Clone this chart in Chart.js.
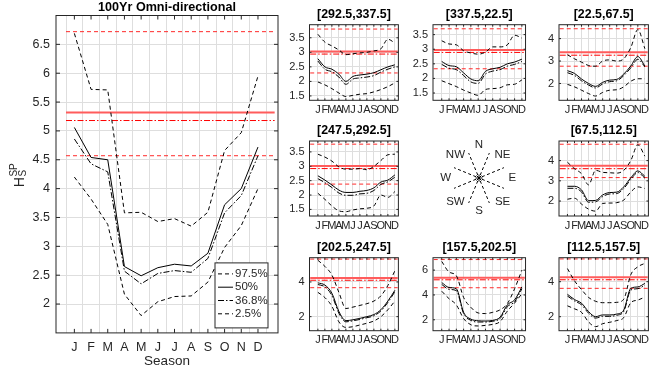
<!DOCTYPE html>
<html>
<head>
<meta charset="utf-8">
<script src="https://cdn.jsdelivr.net/npm/chart.js@4.4.1/dist/chart.umd.min.js"></script>
<style>
  body { margin: 0; background: #fff; }
  #wrap { position: relative; width: 652px; height: 374px; overflow: hidden; }
  #wrap canvas { position: absolute; }
</style>
</head>
<body>
<div id="wrap"></div>
<script>
// Season axis
const months = ['J', 'F', 'M', 'A', 'M', 'J', 'J', 'A', 'S', 'O', 'N', 'D'];
const monthNums = [1, 2, 3, 4, 5, 6, 7, 8, 9, 10, 11, 12];
const halfMonths = [0.5, 1.5, 2.5, 3.5, 4.5, 5.5, 6.5, 7.5, 8.5, 9.5, 10.5, 11.5, 12.5];
const legendLabels = ['97.5%', '50%', '36.8%', '2.5%'];

// 100Yr omni-directional panel
const omniP975 = [6.69, 5.72, 5.71, 3.58, 3.59, 3.43, 3.48, 3.35, 3.59, 4.66, 4.97, 5.95];
const omniP50 = [5.06, 4.54, 4.50, 2.65, 2.49, 2.63, 2.69, 2.66, 2.88, 3.72, 4.00, 4.72];
const omniP368 = [4.86, 4.43, 4.29, 2.57, 2.35, 2.53, 2.58, 2.55, 2.79, 3.58, 3.88, 4.57];
const omniP25 = [4.20, 3.82, 3.38, 2.17, 1.80, 2.04, 2.13, 2.14, 2.38, 2.98, 3.36, 4.00];
const omniLevels = [6.72, 5.32, 5.18, 4.57];   // annual 97.5 / 50 / 36.8 / 2.5
const omniYTicks = [2, 2.5, 3, 3.5, 4, 4.5, 5, 5.5, 6, 6.5];

// directional sectors, top row, middle row, bottom row
const sectorTitles = ['[292.5,337.5]', '[337.5,22.5]', '[22.5,67.5]', '[247.5,292.5]',
                      '[67.5,112.5]', '[202.5,247.5]', '[157.5,202.5]', '[112.5,157.5]'];
const sectorP975 = [
  [3.62, 3.35, 3.22, 3.08, 2.92, 2.95, 2.98, 3.00, 3.05, 3.12, 3.45, 3.32],
  [3.29, 3.18, 3.15, 2.95, 2.87, 2.83, 2.90, 3.08, 3.08, 3.15, 3.48, 3.38],
  [3.28, 3.10, 2.95, 2.80, 2.77, 3.00, 3.05, 3.00, 3.10, 3.60, 4.40, 3.55],
  [3.42, 3.32, 3.18, 2.98, 2.90, 2.90, 2.92, 2.88, 3.00, 3.20, 3.40, 3.42],
  [3.92, 3.60, 3.35, 2.80, 3.52, 3.42, 3.40, 3.38, 3.52, 4.00, 4.78, 4.22],
  [5.25, 4.90, 4.40, 3.40, 2.47, 2.55, 2.65, 2.75, 2.90, 3.20, 3.80, 4.65],
  [6.70, 5.85, 5.55, 3.80, 3.00, 2.55, 2.50, 2.60, 2.80, 3.30, 4.50, 6.00],
  [4.75, 4.05, 3.55, 3.10, 2.88, 2.80, 2.80, 2.82, 3.00, 4.40, 4.85, 5.05]
];
const sectorP50 = [
  [2.78, 2.50, 2.42, 2.25, 2.00, 2.17, 2.22, 2.25, 2.30, 2.40, 2.50, 2.57],
  [2.58, 2.44, 2.40, 2.19, 1.98, 1.92, 2.24, 2.33, 2.38, 2.50, 2.56, 2.66],
  [2.57, 2.45, 2.20, 2.00, 1.87, 2.05, 2.15, 2.18, 2.42, 2.78, 3.20, 2.78],
  [2.67, 2.52, 2.35, 2.17, 2.09, 2.09, 2.13, 2.16, 2.25, 2.45, 2.52, 2.70],
  [2.73, 2.73, 2.55, 2.02, 2.03, 2.30, 2.42, 2.44, 2.70, 3.15, 3.49, 3.22],
  [3.95, 3.82, 3.35, 2.30, 1.77, 1.82, 1.90, 2.00, 2.12, 2.40, 2.90, 3.52],
  [5.00, 4.60, 4.50, 2.60, 2.05, 1.92, 1.90, 1.95, 2.20, 3.20, 3.60, 4.65],
  [3.28, 2.98, 2.77, 2.29, 2.00, 2.10, 2.10, 2.15, 2.38, 3.62, 3.70, 3.90]
];
const sectorP368 = [
  [2.70, 2.42, 2.33, 2.15, 1.90, 2.08, 2.12, 2.15, 2.20, 2.32, 2.42, 2.50],
  [2.48, 2.35, 2.30, 2.10, 1.88, 1.83, 2.15, 2.25, 2.30, 2.42, 2.48, 2.58],
  [2.48, 2.36, 2.12, 1.93, 1.80, 1.98, 2.08, 2.12, 2.35, 2.70, 3.08, 2.74],
  [2.57, 2.43, 2.26, 2.07, 1.99, 1.99, 2.04, 2.06, 2.16, 2.37, 2.46, 2.62],
  [2.63, 2.63, 2.45, 1.94, 1.96, 2.22, 2.35, 2.37, 2.62, 3.07, 3.41, 3.13],
  [3.85, 3.72, 3.22, 2.20, 1.70, 1.76, 1.84, 1.94, 2.05, 2.33, 2.82, 3.44],
  [4.85, 4.45, 4.35, 2.50, 1.95, 1.82, 1.82, 1.88, 2.10, 3.05, 3.45, 4.50],
  [3.18, 2.90, 2.68, 2.20, 1.92, 2.02, 2.02, 2.08, 2.30, 3.52, 3.60, 3.80]
];
const sectorP25 = [
  [1.98, 1.88, 1.75, 1.60, 1.48, 1.52, 1.56, 1.58, 1.64, 1.72, 1.82, 1.95],
  [1.92, 1.82, 1.72, 1.60, 1.50, 1.42, 1.62, 1.65, 1.68, 1.78, 1.80, 1.95],
  [1.96, 1.85, 1.70, 1.55, 1.44, 1.60, 1.70, 1.72, 1.85, 2.10, 2.21, 2.21],
  [2.06, 1.85, 1.62, 1.45, 1.42, 1.48, 1.52, 1.54, 1.62, 2.00, 1.92, 2.12],
  [2.09, 2.14, 1.85, 1.60, 1.50, 1.88, 1.90, 1.92, 2.05, 2.45, 2.70, 2.62],
  [3.40, 3.10, 2.60, 1.70, 1.38, 1.42, 1.52, 1.62, 1.75, 2.00, 2.40, 2.90],
  [4.30, 3.70, 3.20, 2.10, 1.60, 1.50, 1.55, 1.63, 1.85, 2.70, 3.35, 4.10],
  [2.62, 2.45, 2.25, 1.70, 1.43, 1.60, 1.68, 1.78, 1.95, 2.80, 2.95, 3.12]
];
const sectorLevels = [
  [3.80, 3.03, 2.94, 2.29],
  [3.70, 2.97, 2.89, 2.33],
  [4.44, 3.39, 3.26, 2.77],
  [3.77, 3.01, 2.92, 2.38],
  [4.81, 3.75, 3.60, 3.16],
  [5.32, 4.23, 4.10, 3.67],
  [6.85, 5.38, 5.22, 4.58],
  [5.30, 4.25, 4.11, 3.62]
];
const sectorYMin = [1.35, 1.25, 1.25, 1.27, 1.26, 1.19, 1.12, 1.20];
const sectorYMax = [3.95, 3.84, 4.62, 3.88, 4.97, 5.40, 7.00, 5.37];
const sectorYTicks = [
  [1.5, 2, 2.5, 3, 3.5], [1.5, 2, 2.5, 3, 3.5], [2, 3, 4], [1.5, 2, 2.5, 3, 3.5],
  [2, 3, 4], [2, 4], [2, 4, 6], [2, 4]
];

// compass rose
const compassLabels = ['N', 'NE', 'E', 'SE', 'S', 'SW', 'W', 'NW'];
const compassBearings = [0, 45, 90, 135, 180, 225, 270, 315];
const sectorEdges = [22.5, 67.5, 112.5, 157.5, 202.5, 247.5, 292.5, 337.5];

Chart.defaults.font.family = '"Liberation Sans", Arial, Helvetica, sans-serif';
Chart.defaults.color = '#262626';
const FONT = '"Liberation Sans", Arial, Helvetica, sans-serif';
const GRID = '#dedede';
const AXIS = '#262626';

const wrap = document.getElementById('wrap');

function makeCanvas(left, top, w, h) {
    const c = document.createElement('canvas');
    c.width = w;
    c.height = h;
    c.style.left = left + 'px';
    c.style.top = top + 'px';
    c.style.width = w + 'px';
    c.style.height = h + 'px';
    wrap.appendChild(c);
    return c;
}

// canvas around a plot box, returns the margins that are left for axes/title
function placeCanvas(box, pad) {
    const left = Math.floor(box.l - pad.l), top = Math.floor(box.t - pad.t);
    const right = Math.ceil(box.l + box.w + pad.r), bottom = Math.ceil(box.t + box.h + pad.b);
    return {
        canvas: makeCanvas(left, top, right - left, bottom - top),
        padL: box.l - left, padT: box.t - top,
        padR: right - (box.l + box.w), padB: bottom - (box.t + box.h)
    };
}

// box border + inward tick marks on all four sides
const boxTicks = {
    id: 'boxTicks',
    afterDraw(chart, args, opts) {
        const {ctx, chartArea: a, scales} = chart;
        const len = opts.len || 0;
        ctx.save();
        ctx.strokeStyle = AXIS;
        ctx.lineWidth = 1;
        ctx.beginPath();
        scales.x.ticks.forEach(t => {
            const px = scales.x.getPixelForValue(t.value);
            ctx.moveTo(px, a.bottom); ctx.lineTo(px, a.bottom - len);
            ctx.moveTo(px, a.top); ctx.lineTo(px, a.top + len);
        });
        scales.y.ticks.forEach(t => {
            const py = scales.y.getPixelForValue(t.value);
            ctx.moveTo(a.left, py); ctx.lineTo(a.left + len, py);
            ctx.moveTo(a.right, py); ctx.lineTo(a.right - len, py);
        });
        ctx.stroke();
        ctx.strokeRect(a.left, a.top, a.width, a.height);
        ctx.restore();
    }
};

// H_S^SP label of the main panel
const hsLabel = {
    id: 'hsLabel',
    afterDraw(chart) {
        const ctx = chart.ctx, a = chart.chartArea;
        ctx.save();
        ctx.translate(24, (a.top + a.bottom) / 2 + 13);
        ctx.rotate(-Math.PI / 2);
        ctx.fillStyle = AXIS;
        ctx.textBaseline = 'alphabetic';
        ctx.font = '14px ' + FONT;
        ctx.fillText('H', 0, 0);
        const w = ctx.measureText('H').width + 0.5;
        ctx.font = '10px ' + FONT;
        ctx.fillText('S', w, 1.5);
        ctx.fillText('SP', w, -7);
        ctx.restore();
    }
};

// boxed legend in the lower right corner of the main panel
const boxLegend = {
    id: 'boxLegend',
    afterDraw(chart) {
        const {ctx, chartArea: a} = chart;
        const w = 53, h = 65;
        const x0 = a.right - 10 - w, y0 = a.bottom - 5 - h;
        ctx.save();
        ctx.fillStyle = '#fff';
        ctx.fillRect(x0, y0, w, h);
        ctx.strokeStyle = AXIS;
        ctx.lineWidth = 1;
        ctx.strokeRect(x0, y0, w, h);
        ctx.font = '11.5px ' + FONT;
        ctx.textBaseline = 'middle';
        chart.data.datasets.slice(0, 4).forEach((ds, i) => {
            const cy = y0 + 11 + i * 13.3;
            ctx.strokeStyle = ds.borderColor;
            ctx.lineWidth = ds.borderWidth;
            ctx.setLineDash(ds.borderDash);
            ctx.beginPath();
            ctx.moveTo(x0 + 3, cy);
            ctx.lineTo(x0 + 18, cy);
            ctx.stroke();
            ctx.setLineDash([]);
            ctx.fillStyle = AXIS;
            ctx.fillText(ds.label, x0 + 20, cy);
        });
        ctx.restore();
    }
};

function seriesSets(p975, p50, p368, p25, smooth) {
    const pts = arr => arr.map((v, i) => ({x: monthNums[i], y: v}));
    const base = {borderColor: '#000', borderWidth: 1, pointRadius: 0, fill: false,
                  cubicInterpolationMode: smooth ? 'monotone' : 'default', xAxisID: 'x'};
    return [
        Object.assign({}, base, {label: legendLabels[0], data: pts(p975), borderDash: [4, 3]}),
        Object.assign({}, base, {label: legendLabels[1], data: pts(p50), borderDash: []}),
        Object.assign({}, base, {label: legendLabels[2], data: pts(p368), borderDash: [6, 2, 1.5, 2]}),
        Object.assign({}, base, {label: legendLabels[3], data: pts(p25), borderDash: [4, 3]})
    ];
}

function levelSets(levels, x0, x1) {
    const styles = [
        {borderColor: '#ff2a2a', borderWidth: 1, borderDash: [4, 3]},
        {borderColor: '#ff5c5c', borderWidth: 2, borderDash: []},
        {borderColor: '#ff0000', borderWidth: 1, borderDash: [6, 2, 1.5, 2]},
        {borderColor: '#ff2a2a', borderWidth: 1, borderDash: [4, 3]}
    ];
    return levels.map((lv, i) => Object.assign({
        data: [{x: x0, y: lv}, {x: x1, y: lv}], pointRadius: 0, fill: false, xAxisID: 'x'
    }, styles[i]));
}

function drawPanel(box, cfg) {
    const pl = placeCanvas(box, cfg.pad);
    const lineH = cfg.titleSize * 1.2;
    const tTop = Math.max(0, pl.padT - cfg.titleAbove - lineH / 2);
    const scales = {
        x: {
            type: 'linear', min: cfg.xMin, max: cfg.xMax,
            afterBuildTicks: s => { s.ticks = monthNums.map(v => ({value: v})); },
            afterFit: s => { s.height = pl.padB; },
            ticks: {autoSkip: false, maxRotation: 0, minRotation: 0, padding: cfg.xPad,
                    font: {size: cfg.tickSize}, color: AXIS, callback: v => months[v - 1]},
            grid: {display: !cfg.halfGrid, color: GRID, drawTicks: false},
            border: {display: false},
            title: cfg.xTitle ? {display: true, text: cfg.xTitle, font: {size: 13.5}, color: AXIS,
                                 padding: {top: 0, bottom: 4.5}} : {display: false}
        },
        y: {
            type: 'linear', min: cfg.yMin, max: cfg.yMax,
            afterBuildTicks: s => { s.ticks = cfg.yTicks.map(v => ({value: v})); },
            afterFit: s => { s.width = pl.padL; },
            ticks: {padding: cfg.yPad, font: {size: cfg.tickSize}, color: AXIS, callback: v => String(v)},
            grid: {color: GRID, drawTicks: false},
            border: {display: false}
        }
    };
    if (cfg.halfGrid) {
        scales.xg = {
            type: 'linear', min: cfg.xMin, max: cfg.xMax, position: 'bottom',
            afterBuildTicks: s => { s.ticks = halfMonths.map(v => ({value: v})); },
            afterFit: s => { s.height = 0; },
            ticks: {display: false},
            grid: {color: GRID, drawTicks: false},
            border: {display: false}
        };
    }
    const datasets = seriesSets(cfg.p975, cfg.p50, cfg.p368, cfg.p25, cfg.smooth)
        .concat(levelSets(cfg.levels, cfg.levelX0, cfg.levelX1));
    return new Chart(pl.canvas, {
        type: 'line',
        data: {datasets},
        options: {
            responsive: false,
            animation: false,
            layout: {padding: {left: 0, top: 0, right: pl.padR, bottom: 0}},
            scales,
            plugins: {
                legend: {display: false},
                tooltip: {enabled: false},
                title: {display: true, text: cfg.title, color: '#000', fullSize: false,
                        font: {size: cfg.titleSize, weight: 'bold'},
                        padding: {top: tTop, bottom: pl.padT - tTop - lineH}},
                boxTicks: {len: cfg.tickLen}
            }
        },
        plugins: [boxTicks].concat(cfg.extra || [])
    });
}

// main panel
drawPanel({l: 56, t: 15.5, w: 222, h: 317.4}, {
    pad: {l: 56, t: 15.5, r: 12, b: 41.1},
    title: '100Yr Omni-directional', titleSize: 12.6, titleAbove: 8,
    xMin: -0.1, xMax: 13.2, yMin: 1.5, yMax: 7, yTicks: omniYTicks,
    tickSize: 12.5, xPad: 7.5, yPad: 6, tickLen: 4, halfGrid: true, xTitle: 'Season',
    p975: omniP975, p50: omniP50, p368: omniP368, p25: omniP25, smooth: false,
    levels: omniLevels, levelX0: 0.5, levelX1: 13,
    extra: [hsLabel, boxLegend]
});

// sector panels
const panelBoxes = [
    {l: 309.5, t: 24.7, w: 90, h: 75.6}, {l: 433, t: 24.7, w: 94, h: 75.6}, {l: 559, t: 24.7, w: 91, h: 75.6},
    {l: 309.5, t: 141, w: 90, h: 75}, {l: 559, t: 141, w: 91, h: 75},
    {l: 309.5, t: 257.7, w: 90, h: 73}, {l: 433, t: 257.7, w: 94, h: 73}, {l: 559, t: 257.7, w: 91, h: 73}
];
panelBoxes.forEach((box, i) => {
    drawPanel(box, {
        pad: {l: 30, t: 20, r: 2, b: 17},
        title: sectorTitles[i], titleSize: 12.4, titleAbove: 10,
        xMin: -0.2, xMax: 12.5, yMin: sectorYMin[i], yMax: sectorYMax[i], yTicks: sectorYTicks[i],
        tickSize: 11, xPad: 3, yPad: 5, tickLen: 2, halfGrid: false,
        p975: sectorP975[i], p50: sectorP50[i], p368: sectorP368[i], p25: sectorP25[i], smooth: true,
        levels: sectorLevels[i], levelX0: -0.1, levelX1: 12.4
    });
});

// compass rose
const compassText = {
    id: 'compassText',
    afterDraw(chart) {
        const {ctx, scales} = chart;
        ctx.save();
        ctx.fillStyle = AXIS;
        ctx.font = '11.5px ' + FONT;
        ctx.textAlign = 'center';
        ctx.textBaseline = 'middle';
        compassLabels.forEach((lab, i) => {
            const b = compassBearings[i] * Math.PI / 180;
            const r = 0.74;
            ctx.fillText(lab, scales.x.getPixelForValue(r * Math.sin(b)), scales.y.getPixelForValue(r * Math.cos(b)));
        });
        ctx.restore();
    }
};
const rose = sectorEdges.map(deg => {
    const b = deg * Math.PI / 180;
    return {
        data: [{x: 0.07 * Math.sin(b), y: 0.07 * Math.cos(b)}, {x: 0.6 * Math.sin(b), y: 0.6 * Math.cos(b)}],
        borderColor: '#000', borderWidth: 1, borderDash: [3, 2.5], pointRadius: 0
    };
});
rose.push({data: [{x: 0, y: 0}], showLine: false, pointStyle: 'star', pointRadius: 3.5,
           borderColor: '#000', borderWidth: 1});
new Chart(makeCanvas(429, 128, 100, 100), {
    type: 'line',
    data: {datasets: rose},
    options: {
        responsive: false,
        animation: false,
        layout: {padding: 0},
        scales: {
            x: {type: 'linear', min: -1, max: 1, display: false},
            y: {type: 'linear', min: -1, max: 1, display: false}
        },
        plugins: {legend: {display: false}, tooltip: {enabled: false}}
    },
    plugins: [compassText]
});
</script>
</body>
</html>
